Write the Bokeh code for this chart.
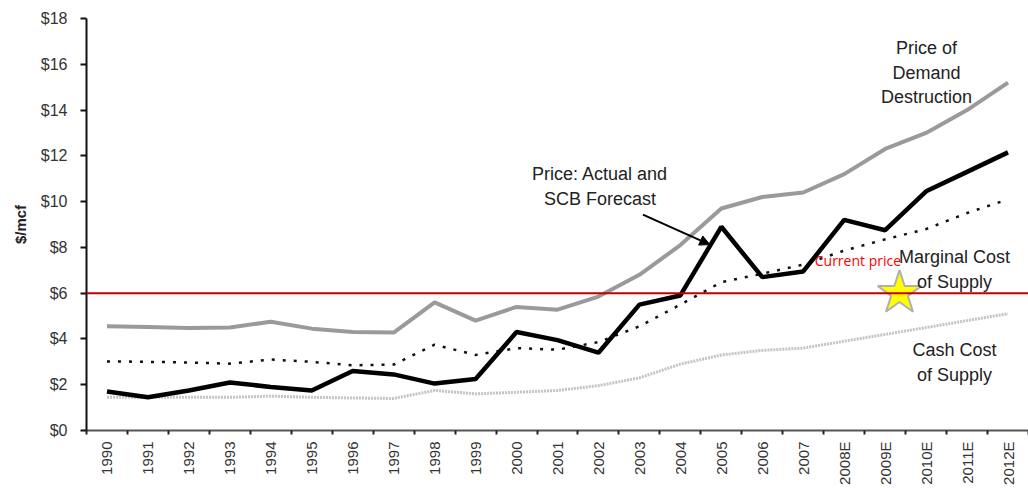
import math
from bokeh.plotting import figure
from bokeh.models import Range1d, FixedTicker, Span, Label, Arrow, NormalHead
from bokeh.embed import file_html
from bokeh.resources import INLINE

years = ["1990", "1991", "1992", "1993", "1994", "1995", "1996", "1997", "1998", "1999",
         "2000", "2001", "2002", "2003", "2004", "2005", "2006", "2007",
         "2008E", "2009E", "2010E", "2011E", "2012E"]
price = [1.70, 1.45, 1.75, 2.10, 1.90, 1.75, 2.60, 2.45, 2.05, 2.25, 4.30, 3.95, 3.40,
         5.50, 5.90, 8.90, 6.70, 6.95, 9.20, 8.75, 10.45, 11.30, 12.15]
demand_destruction = [4.55, 4.52, 4.48, 4.50, 4.75, 4.45, 4.30, 4.28, 5.60, 4.80, 5.40, 5.28, 5.85,
                      6.80, 8.10, 9.70, 10.20, 10.40, 11.20, 12.30, 13.00, 14.00, 15.20]
marginal_cost = [3.02, 3.00, 2.97, 2.92, 3.10, 3.00, 2.85, 2.88, 3.75, 3.30, 3.60, 3.53, 3.86,
                 4.55, 5.50, 6.48, 6.85, 7.25, 7.86, 8.35, 8.80, 9.50, 10.10]
cash_cost = [1.45, 1.45, 1.45, 1.45, 1.50, 1.45, 1.42, 1.40, 1.75, 1.60, 1.67, 1.75, 1.96,
             2.30, 2.90, 3.30, 3.50, 3.60, 3.90, 4.20, 4.50, 4.80, 5.10]
y_ticks = [0, 2, 4, 6, 8, 10, 12, 14, 16, 18]
current_price = 6.0

xs = list(range(len(years)))
FONT = "Liberation Sans"

p = figure(width=1028, height=488, output_backend="svg", toolbar_location=None,
           x_range=Range1d(-0.5, len(years) - 0.5), y_range=Range1d(0, 18),
           min_border_left=86, min_border_right=0, min_border_top=18, min_border_bottom=58)
p.outline_line_color = None
p.grid.visible = False
p.background_fill_color = "white"
p.border_fill_color = "white"

# x axis: labels at centers, tick marks between categories
p.xaxis.ticker = FixedTicker(ticks=xs, minor_ticks=[i - 0.5 for i in range(len(years) + 1)])
p.xaxis.major_label_overrides = {i: y for i, y in enumerate(years)}
p.xaxis.major_label_orientation = math.pi / 2
p.xaxis.major_tick_out = 0
p.xaxis.major_tick_in = 0
p.xaxis.minor_tick_out = 4
p.xaxis.minor_tick_in = 0
p.xaxis.minor_tick_line_color = "#222222"
p.xaxis.minor_tick_line_width = 2
p.xaxis.axis_line_color = "#555555"
p.xaxis.axis_line_width = 2
p.xaxis.major_label_text_font = FONT
p.xaxis.major_label_text_font_size = "15px"
p.xaxis.major_label_text_color = "#333333"
p.xaxis.major_label_standoff = 7

p.yaxis.ticker = FixedTicker(ticks=y_ticks)
p.yaxis.major_label_overrides = {t: "$%d" % t for t in y_ticks}
p.yaxis.minor_tick_line_color = None
p.yaxis.major_tick_out = 6
p.yaxis.major_tick_in = 0
p.yaxis.major_tick_line_width = 2
p.yaxis.major_tick_line_color = "#111111"
p.yaxis.axis_line_color = "#111111"
p.yaxis.axis_line_width = 2
p.yaxis.major_label_text_font = FONT
p.yaxis.major_label_text_font_size = "16px"
p.yaxis.major_label_text_color = "#333333"
p.yaxis.major_label_standoff = 13
p.yaxis.axis_label = "$/mcf"
p.yaxis.axis_label_text_font = FONT
p.yaxis.axis_label_text_font_style = "bold"
p.yaxis.axis_label_text_font_size = "15px"
p.yaxis.axis_label_text_color = "#222222"
p.yaxis.axis_label_standoff = 9

# series
p.line(xs, cash_cost, line_color="#c4c4c4", line_width=3, line_dash="2 1")
p.line(xs, demand_destruction, line_color="#9a9a9a", line_width=4)
p.line(xs, marginal_cost, line_color="#111111", line_width=2.5, line_dash="3 8")
p.line(xs, price, line_color="#000000", line_width=4.5)

# current price line + star
p.add_layout(Span(location=current_price, dimension="width", line_color="#c00000", line_width=2))
star_x = years.index("2009E") + 0.35
p.scatter([star_x], [current_price], marker="star", size=46, fill_color="#ffff00",
          line_color="#b0b0b0", line_width=2)

def lab(x, y, text, color="#222222", size="18px", font=FONT, align="center"):
    p.add_layout(Label(x=x, y=y, text=text, text_font=font, text_font_size=size,
                       text_color=color, text_align=align, text_baseline="middle",
                       text_line_height=1.22))

lab((927 - 106.5) / 41, (430 - 72) / 22.9, "Price of\nDemand\nDestruction")
lab((600 - 106.5) / 41, (430 - 186) / 22.9, "Price: Actual and\nSCB Forecast")
lab((955 - 106.5) / 41, (430 - 269) / 22.9, "Marginal Cost\nof Supply")
lab((955 - 106.5) / 41, (430 - 362) / 22.9, "Cash Cost\nof Supply")
lab((815 - 106.5) / 41, (430 - 260) / 22.9, "Current price", color="#ff0000",
    size="14px", font="Open Sans", align="left")

p.add_layout(Arrow(end=NormalHead(size=10, fill_color="black", line_color="black"),
                   x_start=(643 - 106.5) / 41, y_start=(430 - 214) / 22.9,
                   x_end=(710 - 106.5) / 41, y_end=(430 - 244) / 22.9,
                   line_color="black", line_width=2))

open("out.html", "w").write(file_html(p, INLINE))
